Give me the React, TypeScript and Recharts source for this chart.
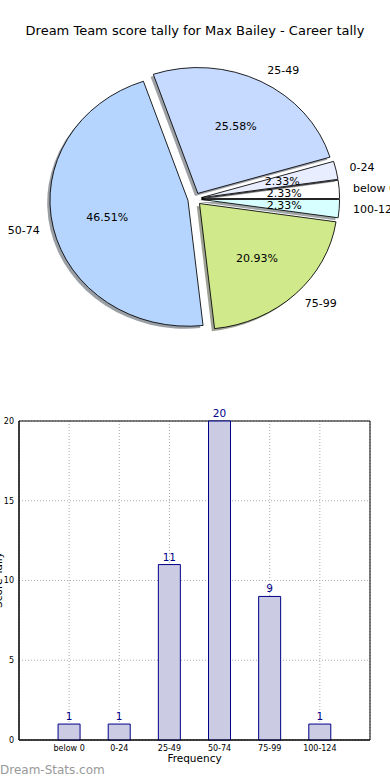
import React from 'react';
import {
  PieChart, Pie, Cell, BarChart, Bar, XAxis, YAxis, CartesianGrid, LabelList, Label, ReferenceArea,
} from 'recharts';

const categories = ['below 0', '0-24', '25-49', '50-74', '75-99', '100-124'];
const counts = [1, 1, 11, 20, 9, 1];
const pieColors = ['#ffffff', '#e8eeff', '#c6d9fe', '#b5d5fe', '#d0ea8b', '#d8ffff'];
const yTicks = [0, 5, 10, 15, 20];
const xTicks = [0, 1, 2, 3, 4, 5];

const titleText = 'Dream Team score tally for Max Bailey - Career tally';
const xLabelText = 'Frequency';
const yLabelText = 'Score Tally';
const watermark = 'Dream-Stats.com';

const FONT = '"DejaVu Sans", sans-serif';
const RAD = Math.PI / 180;
const CX = 194.7;
const CY = 199;
const R = 138;
const EXPLODE = 0.05;
const K = 0.912;
const SH = 0.02 * R;

const pieData = categories.map((name, i) => ({ name, value: counts[i] }));
const barData = categories.map((name, i) => ({ idx: i, name, value: counts[i] }));

const total = counts.reduce((a, b) => a + b, 0);
const mids: number[] = [];
{
  let acc = 0;
  counts.forEach((v) => {
    mids.push(((acc + v / 2) / total) * 360);
    acc += v;
  });
}

const shade = (hex: string) => {
  const n = parseInt(hex.slice(1), 16);
  const r = Math.round(((n >> 16) & 255) * 0.3);
  const g = Math.round(((n >> 8) & 255) * 0.3);
  const b = Math.round((n & 255) * 0.3);
  return `rgb(${r},${g},${b})`;
};

const unsquash = (x: number, y: number) =>
  `translate(${x} ${y}) scale(1 ${1 / K}) translate(${-x} ${-y})`;

const makeLabel = (i: number) => (p: any) => {
  if (p.index !== i) return null;
  const a = -p.midAngle * RAD;
  const r = p.outerRadius;
  const lx = p.cx + 1.1 * r * Math.cos(a);
  const ly = p.cy + 1.1 * r * Math.sin(a);
  const px = p.cx + 0.6 * r * Math.cos(a);
  const py = p.cy + 0.6 * r * Math.sin(a);
  return (
    <g>
      <text x={lx} y={ly} dy="0.35em" textAnchor={Math.cos(a) > 0 ? 'start' : 'end'}
        transform={unsquash(lx, ly)} fontFamily={FONT} fontSize={11} fill="#000">
        {p.name}
      </text>
      <text x={px} y={py} dy="0.35em" textAnchor="middle"
        transform={unsquash(px, py)} fontFamily={FONT} fontSize={11} fill="#000">
        {(p.percent * 100).toFixed(2) + '%'}
      </text>
    </g>
  );
};

const slicePos = (i: number) => {
  const d = EXPLODE * R;
  return { x: CX + d * Math.cos(-mids[i] * RAD), y: CY + d * Math.sin(-mids[i] * RAD) };
};

export default function App() {
  const pies: React.ReactNode[] = [];
  categories.forEach((_, i) => {
    const p = slicePos(i);
    pies.push(
      <Pie key={'sh' + i} data={pieData} dataKey="value" nameKey="name" cx={p.x - SH} cy={p.y + SH}
        outerRadius={R} isAnimationActive={false} label={false} labelLine={false}>
        {pieData.map((_, j) => (
          <Cell key={j} fill={j === i ? shade(pieColors[i]) : 'none'} fillOpacity={0.5} stroke="none" />
        ))}
      </Pie>
    );
    pies.push(
      <Pie key={'pc' + i} data={pieData} dataKey="value" nameKey="name" cx={p.x} cy={p.y}
        outerRadius={R} isAnimationActive={false} label={false} labelLine={false}>
        {pieData.map((_, j) => (
          <Cell key={j} fill={j === i ? pieColors[i] : 'none'} stroke={j === i ? '#000' : 'none'} strokeWidth={0.9} />
        ))}
      </Pie>
    );
  });
  categories.forEach((_, i) => {
    const p = slicePos(i);
    pies.push(
      <Pie key={'lb' + i} data={pieData} dataKey="value" nameKey="name" cx={p.x} cy={p.y}
        outerRadius={R} isAnimationActive={false} label={makeLabel(i)} labelLine={false}>
        {pieData.map((_, j) => (
          <Cell key={j} fill="none" stroke="none" />
        ))}
      </Pie>
    );
  });

  return (
    <div style={{ position: 'absolute', left: 0, top: 0, width: 390, height: 780, background: '#fff', overflow: 'hidden' }}>
      <div style={{ position: 'absolute', left: 0, top: 0, width: 390, height: 400, transform: `scaleY(${K})`, transformOrigin: `${CX}px ${CY}px` }}>
        <PieChart width={390} height={400} margin={{ top: 0, right: 0, bottom: 0, left: 0 }}>
          {pies}
        </PieChart>
      </div>
      <div style={{ position: 'absolute', left: 0, top: 390, width: 390, height: 390 }}>
        <BarChart width={390} height={390} data={barData} margin={{ top: 31, right: 20, bottom: 10, left: 0 }}>
          <CartesianGrid stroke="#aaa" strokeDasharray="1 2" />
          <XAxis dataKey="idx" type="number" domain={[-1, 6]} ticks={xTicks} height={30}
            tickFormatter={(v: number) => categories[v] ?? ''}
            tickLine={false} tickSize={3} tickMargin={2} axisLine={{ stroke: '#000' }}
            tick={{ fontSize: 8, fill: '#000', fontFamily: FONT }} interval={0}>
            <Label value={xLabelText} position="insideBottom" offset={8} style={{ fontSize: 10.5, fill: '#000', fontFamily: FONT }} />
          </XAxis>
          <YAxis type="number" domain={[0, 20]} ticks={yTicks} width={19} tickLine={false} tickSize={3}
            axisLine={{ stroke: '#000' }} tick={{ fontSize: 8, fill: '#000', fontFamily: FONT }} />
          <Bar dataKey="value" barSize={22} fill="#cbcbe3" stroke="#000088" strokeWidth={1} isAnimationActive={false}>
            <LabelList dataKey="value" position="top" offset={4} style={{ fontSize: 10.5, fill: '#000088', fontFamily: FONT }} />
          </Bar>
          <ReferenceArea x1={-1} x2={6} y1={0} y2={20} fill="none" fillOpacity={0} stroke="#000" strokeWidth={1} ifOverflow="visible" />
        </BarChart>
      </div>
      <svg width={390} height={780} style={{ position: 'absolute', left: 0, top: 0, pointerEvents: 'none' }}>
        <text x={195} y={30} dy="0.35em" textAnchor="middle" fontFamily={FONT} fontSize={13} fill="#000">{titleText}</text>
        <text transform="translate(2 580) rotate(-90)" textAnchor="middle" fontFamily={FONT} fontSize={10.5} fill="#000">{yLabelText}</text>
        <text x={0} y={770} dy="0.35em" fontFamily={FONT} fontSize={12} fill="#999">{watermark}</text>
      </svg>
    </div>
  );
}
